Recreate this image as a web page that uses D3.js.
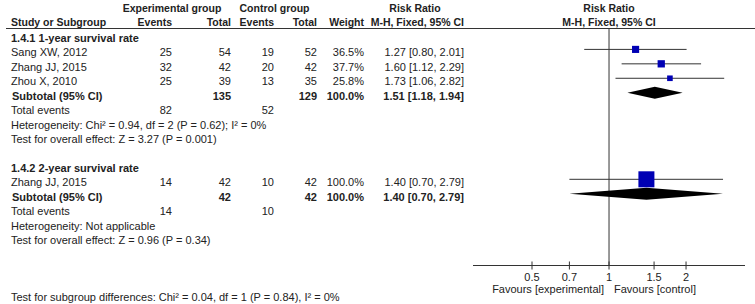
<!DOCTYPE html>
<html>
<head>
<meta charset="utf-8">
<script src="https://cdn.jsdelivr.net/npm/d3@7"></script>
<style>
  body { margin: 0; background: #fff; }
  svg text { font-family: Arial, "Liberation Sans", sans-serif; font-size: 11px; fill: #222; }
  svg text.head { font-size: 10.5px; }
</style>
</head>
<body>
<svg id="drawing_region"></svg>
<script>
// data
const groups = ["1.4.1 1-year survival rate", "1.4.2 2-year survival rate"];
const studies = ["Sang XW, 2012", "Zhang JJ, 2015", "Zhou X, 2010", "Zhang JJ, 2015"];
const studyGroup = [0, 0, 0, 1];
const expEvents = [25, 32, 25, 14];
const expTotal = [54, 42, 39, 42];
const ctrlEvents = [19, 20, 13, 10];
const ctrlTotal = [52, 42, 35, 42];
const weights = [36.5, 37.7, 25.8, 100.0];
const rr = [1.27, 1.60, 1.73, 1.40];
const rrLow = [0.80, 1.12, 1.06, 0.70];
const rrHigh = [2.01, 2.29, 2.82, 2.79];

const subExpTotal = [135, 42];
const subCtrlTotal = [129, 42];
const subWeight = [100.0, 100.0];
const subRR = [1.51, 1.40];
const subLow = [1.18, 0.70];
const subHigh = [1.94, 2.79];
const totExpEvents = [82, 14];
const totCtrlEvents = [52, 10];
const heterogeneity = [
    "Heterogeneity: Chi\u00b2 = 0.94, df = 2 (P = 0.62); I\u00b2 = 0%",
    "Heterogeneity: Not applicable"
];
const overallEffect = [
    "Test for overall effect: Z = 3.27 (P = 0.001)",
    "Test for overall effect: Z = 0.96 (P = 0.34)"
];
const subgroupTest = "Test for subgroup differences: Chi\u00b2 = 0.04, df = 1 (P = 0.84), I\u00b2 = 0%";
const tickValues = [0.5, 0.7, 1, 1.5, 2];
const favours = ["Favours [experimental]", "Favours [control]"];

class ForestPlot {

    constructor( config ) {
        this.config = config;
        this.init();
    }

    init() {
        let self = this;

        self.svg = d3.select( self.config.parent )
            .attr('width', self.config.width)
            .attr('height', self.config.height);

        // log scale of the plot panel
        self.xscale = d3.scaleLog()
            .domain( [0.294, 3.4] )
            .range( [473, 745] );

        // row index -> y of the marks
        self.yscale = d3.scaleLinear()
            .domain( [3, 12] )
            .range( [49.4, 179.3] );

        self.size = d3.scaleLinear()
            .domain( [0, 100] )
            .range( [2, 16] );

        self.fmt2 = d3.format(".2f");
        self.fmt1 = d3.format(".1f");
    }

    ci( m, l, h ) {
        let self = this;
        return `${self.fmt2(m)} [${self.fmt2(l)}, ${self.fmt2(h)}]`;
    }

    text( x, y, str, anchor, bold ) {
        let self = this;
        return self.svg.append('text')
            .attr('x', x)
            .attr('y', y)
            .attr('text-anchor', anchor || 'start')
            .attr('font-weight', bold ? 'bold' : 'normal')
            .text( str );
    }

    head( x, y, str, anchor ) {
        let self = this;
        self.text( x, y, str, anchor, true ).attr('class', 'head');
    }

    render() {
        let self = this;
        const c = self.config.cols;
        const x = self.xscale;
        const y = self.yscale;
        const one = x(1);

        // header
        self.head( 172, 11.5, "Experimental group", 'middle' );
        self.head( 274.5, 11.5, "Control group", 'middle' );
        self.head( 415, 11.5, "Risk Ratio", 'middle' );
        self.head( one, 11.5, "Risk Ratio", 'middle' );
        self.head( c.label, 26, "Study or Subgroup", 'start' );
        self.head( c.expEv, 26, "Events", 'end' );
        self.head( c.expTot, 26, "Total", 'end' );
        self.head( c.ctrlEv, 26, "Events", 'end' );
        self.head( c.ctrlTot, 26, "Total", 'end' );
        self.head( c.weight, 26, "Weight", 'end' );
        self.head( c.ci, 26, "M-H, Fixed, 95% CI", 'end' );
        self.head( one, 26, "M-H, Fixed, 95% CI", 'middle' );

        self.svg.append('line')
            .attr('x1', 6).attr('x2', self.config.width)
            .attr('y1', 28.5).attr('y2', 28.5)
            .attr('stroke', '#333').attr('stroke-width', 1);

        // line of no effect
        self.svg.append('line')
            .attr('x1', one).attr('x2', one)
            .attr('y1', 28.5).attr('y2', 265.5)
            .attr('stroke', '#333').attr('stroke-width', 1);

        const marks = self.svg.append('g');
        const base = 7; // text baseline below mark line

        let idx = 2;
        groups.forEach( (g, gi) => {
            self.text( c.label, y(idx) + base, g, 'start', true );
            idx++;

            studies.forEach( (s, i) => {
                if (studyGroup[i] !== gi) return;
                const yy = y(idx) + base;
                self.text( c.label, yy, s );
                self.text( c.expEv, yy, expEvents[i], 'end' );
                self.text( c.expTot, yy, expTotal[i], 'end' );
                self.text( c.ctrlEv, yy, ctrlEvents[i], 'end' );
                self.text( c.ctrlTot, yy, ctrlTotal[i], 'end' );
                self.text( c.weight, yy, self.fmt1(weights[i]) + "%", 'end' );
                self.text( c.ci, yy, self.ci(rr[i], rrLow[i], rrHigh[i]), 'end' );
                idx++;
            });

            // subtotal row
            const ys = y(idx);
            self.text( c.label + 1, ys + base, "Subtotal (95% CI)", 'start', true );
            self.text( c.expTot, ys + base, subExpTotal[gi], 'end', true );
            self.text( c.ctrlTot, ys + base, subCtrlTotal[gi], 'end', true );
            self.text( c.weight, ys + base, self.fmt1(subWeight[gi]) + "%", 'end', true );
            self.text( c.ci, ys + base, self.ci(subRR[gi], subLow[gi], subHigh[gi]), 'end', true );
            marks.append('path')
                .attr('d', `M${x(subLow[gi])},${ys} L${x(subRR[gi])},${ys - 6} L${x(subHigh[gi])},${ys} L${x(subRR[gi])},${ys + 6} Z`)
                .attr('fill', '#000');
            idx++;

            self.text( c.label, y(idx) + base, "Total events" );
            self.text( c.expEv, y(idx) + base, totExpEvents[gi], 'end' );
            self.text( c.ctrlEv, y(idx) + base, totCtrlEvents[gi], 'end' );
            idx++;
            self.text( c.label, y(idx) + base, heterogeneity[gi] );
            idx++;
            self.text( c.label, y(idx) + base, overallEffect[gi] );
            idx++;
            idx++; // blank row
        });

        // study CI lines and squares
        let row = 2;
        groups.forEach( (g, gi) => {
            row++;
            studies.forEach( (s, i) => {
                if (studyGroup[i] !== gi) return;
                const yy = y(row);
                marks.append('line')
                    .attr('x1', x(rrLow[i])).attr('x2', x(rrHigh[i]))
                    .attr('y1', yy).attr('y2', yy)
                    .attr('stroke', '#333').attr('stroke-width', 1);
                const sz = self.size(weights[i]);
                marks.append('rect')
                    .attr('x', x(rr[i]) - sz / 2)
                    .attr('y', yy - sz / 2)
                    .attr('width', sz).attr('height', sz)
                    .attr('fill', '#0000b4');
                row++;
            });
            row += 5;
        });

        // axis
        const axisY = 265.5;
        self.svg.append('line')
            .attr('x1', x.range()[0]).attr('x2', x.range()[1])
            .attr('y1', axisY).attr('y2', axisY)
            .attr('stroke', '#333').attr('stroke-width', 1);

        const ticks = self.svg.append('g');
        tickValues.forEach( t => {
            ticks.append('line')
                .attr('x1', x(t)).attr('x2', x(t))
                .attr('y1', axisY - 4).attr('y2', axisY + 4)
                .attr('stroke', '#333');
            self.text( x(t), 281, String(t), 'middle' );
        });

        self.text( one - 5, 292.5, favours[0], 'end' );
        self.text( one + 5, 292.5, favours[1], 'start' );

        self.text( c.label, 301, subgroupTest );
    }
}

const plot = new ForestPlot({
    parent: '#drawing_region',
    width: 755,
    height: 304,
    cols: { label: 11, expEv: 172, expTot: 231, ctrlEv: 274, ctrlTot: 317, weight: 364, ci: 464 }
});
plot.render();
</script>
</body>
</html>
